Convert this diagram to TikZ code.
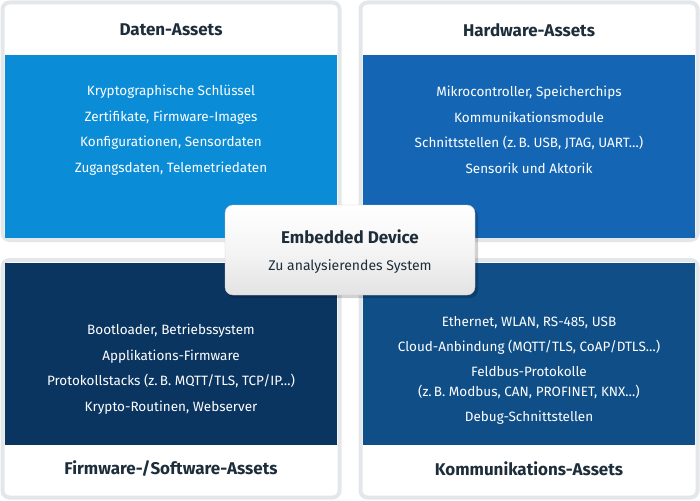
\documentclass[tikz,border=0pt]{standalone}
\usepackage{fontspec}
\setmainfont{Fira Sans}
\usetikzlibrary{shadows}
\definecolor{frame}{HTML}{E4E7EA}
\definecolor{cA}{HTML}{0A8CD6}
\definecolor{cB}{HTML}{1466B4}
\definecolor{cC}{HTML}{0B3561}
\definecolor{cD}{HTML}{0F4E86}
\definecolor{tit}{HTML}{1D2D3A}
\tikzset{
  outer/.style={draw=frame,line width=4pt,fill=white,rounded corners=7pt},
  ptitle/.style={font=\bfseries\fontsize{17}{20}\selectfont,text=tit},
  ptext/.style={text=white,font=\fontsize{13.5}{25.5}\selectfont,align=center},
}
\begin{document}
\begin{tikzpicture}[x=1pt,y=-1pt]
\useasboundingbox (0,0) rectangle (700,500);
\fill[white] (0,0) rectangle (700,500);
% frames
\draw[outer] (2.5,2.5) rectangle (339.5,240);
\draw[outer] (360.5,2.5) rectangle (697.5,240);
\draw[outer] (2.5,260) rectangle (339.5,497.5);
\draw[outer] (360.5,260) rectangle (697.5,497.5);
% colored areas
\fill[cA] (5,55) rectangle (337,238);
\fill[cB] (363,55) rectangle (695,238);
\fill[cC] (5,263) rectangle (337,445);
\fill[cD] (363,263) rectangle (695,445);
% titles
\node[ptitle] (t1) at (171,30) {Daten-Assets};
\node[ptitle] (t2) at (529,30) {Hardware-Assets};
\node[ptitle] (t3) at (171,469) {Firmware-/Software-Assets};
\node[ptitle] (t4) at (529,469) {Kommunikations-Assets};
% texts
\node[ptext] (x1) at (171,130) {Kryptographische Schlüssel\\Zertifikate, Firmware-Images\\Konfigurationen, Sensordaten\\Zugangsdaten, Telemetriedaten};
\node[ptext] (x2) at (529,130) {Mikrocontroller, Speicherchips\\Kommunikationsmodule\\Schnittstellen (z.\,B. USB, JTAG, UART…)\\Sensorik und Aktorik};
\node[ptext] (x3) at (171,369) {Bootloader, Betriebssystem\\Applikations-Firmware\\Protokollstacks (z.\,B. MQTT/TLS, TCP/IP…)\\Krypto-Routinen, Webserver};
\node[ptext,font=\fontsize{13.5}{20}\selectfont] (x4) at (529,370) {Ethernet, WLAN, RS-485, USB\\[5pt]Cloud-Anbindung (MQTT/TLS, CoAP/DTLS…)\\[5pt]Feldbus-Protokolle\\(z.\,B. Modbus, CAN, PROFINET, KNX…)\\[5pt]Debug-Schnittstellen};
% center
\fill[black,opacity=0.18,rounded corners=8pt] (227,208) rectangle (478,298);
\draw[rounded corners=8pt,draw=gray!40,top color=white,bottom color=gray!22,middle color=gray!8]
  (225,205) rectangle (475,295);
\node[font=\bfseries\fontsize{17}{20}\selectfont,text=tit] (c1) at (350,237) {Embedded Device};
\node[font=\fontsize{14}{17}\selectfont,text=tit] (c2) at (350,267) {Zu analysierendes System};
\end{tikzpicture}
\end{document}
